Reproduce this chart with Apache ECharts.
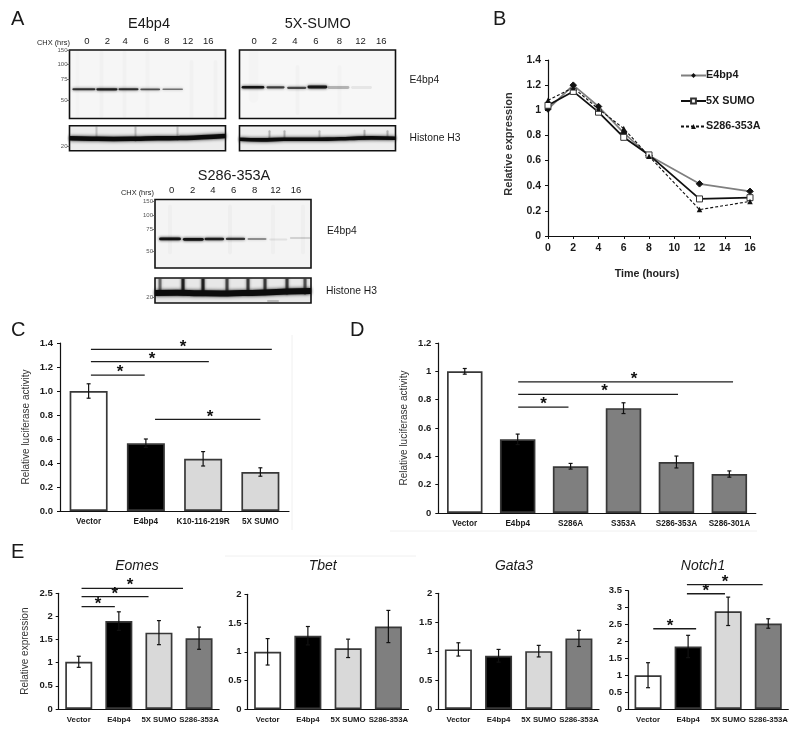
<!DOCTYPE html>
<html><head><meta charset="utf-8">
<style>html,body{margin:0;padding:0;background:#fff}#c{width:800px;height:733px}</style>
<script src="https://cdn.jsdelivr.net/npm/echarts@6/dist/echarts.min.js"></script>
</head><body><div id="c"></div>
<script>
const FONT='"Liberation Sans",Arial,sans-serif';
// ---------- Panel B ----------
const timeHours=[0,2,4,6,8,12,16];
const bE4bp4=[1.01,1.2,1.03,0.82,0.64,0.415,0.355];
const b5xSumo=[1.04,1.15,0.985,0.785,0.645,0.295,0.305];
const bS286=[1.08,1.18,1.01,0.855,0.635,0.21,0.275];
// ---------- Panel C ----------
const cCats=['Vector','E4bp4','K10-116-219R','5X SUMO'];
const cVals=[1,0.565,0.435,0.325];
const cErrs=[0.06,0.035,0.06,0.035];
// ---------- Panel D ----------
const dCats=['Vector','E4bp4','S286A','S353A','S286-353A','S286-301A'];
const dVals=[1,0.52,0.33,0.74,0.36,0.275];
const dErrs=[0.02,0.037,0.02,0.038,0.042,0.022];
// ---------- Panel E ----------
const eCats=['Vector','E4bp4','5X SUMO','S286-353A'];
const eomesVals=[1.02,1.9,1.65,1.53], eomesErrs=[0.12,0.2,0.26,0.24];
const tbetVals=[1,1.28,1.06,1.44], tbetErrs=[0.23,0.16,0.16,0.28];
const gata3Vals=[1.03,0.92,1,1.22], gata3Errs=[0.115,0.11,0.1,0.14];
const notch1Vals=[1,1.85,2.89,2.53], notch1Errs=[0.37,0.33,0.42,0.14];
// significance brackets: [from, to, level, star position] in category index / value units
const cBrackets=[[0.04,3.2,1.347,1.65],[0.04,2.1,1.245,1.11],[0.04,0.98,1.133,0.55],[1.16,3.0,0.764,2.12]];
const dBrackets=[[1.01,5.07,0.925,3.2],[1.01,4.03,0.838,2.64],[1.01,1.96,0.747,1.49]];
const eomesBrackets=[[0.07,2.6,2.608,1.28],[0.07,1.74,2.427,0.9],[0.07,0.9,2.21,0.48]];
const notchBrackets=[[0.97,2.86,3.68,1.92],[0.97,1.92,3.41,1.44],[0.13,1.2,2.375,0.55]];
// ---------- Panel A blots ----------
const laneLabels=['0','2','4','6','8','12','16'];
const e4LaneTicks=[17.4,38,55.7,76.7,97.4,118.4,138.7];
const sumoLaneTicks=[14.7,35,55.4,76.4,100,121,141.7];
const s286LaneTicks=[16.6,37.6,58,78.6,99.6,120.6,141];
const markerLabels=['150','100','75','50'];
// band rows: [gel x, width, gel y, thickness, darkness]
const e4Bands=[[14.4,21,39.3,2,.8],[37.4,19,39.3,2.2,.9],[59,18,39.3,2,.82],[80.7,18,39.3,1.8,.66],[103.2,19,39.3,1.6,.52],
 [8,4,34,64,.012],[32,4,34,64,.018],[55,4,34,64,.018],[78,4,34,64,.014],[122,4,40,56,.018],[146,4,40,56,.018]];
const sumoBands=[[13.5,20,37.3,2.6,.95],[36,16,37.3,2.2,.72],[57.2,17,37.8,2.2,.68],[77.9,17,37,2.8,.92],[99,19,37.5,2.8,.26],[122,18,37.5,2.8,.07],
 [14,10,20,56,.012],[58,4,40,46,.018],[100,4,40,46,.014]];
const s286Bands=[[15,19,39.4,2.8,.98],[38.3,18,39.8,2.8,.98],[59.3,17,39.4,2.5,.9],[80.5,17,39.4,2.3,.76],[102,17,39.4,2,.4],[123.3,16,40,2,.08],[145.3,19,38.6,2,.14],
 [15,4,30,46,.018],[75,4,30,46,.024],[118,4,30,46,.018],[148,4,30,46,.018]];
const e4HistoneSpikes=[[27,2,7,12,.18],[66,2,7,16,.2],[108,2,7,14,.18]];
const sumoHistoneSpikes=[[30,2,9,7,.25],[45,2,9,7,.25],[80,2,9,7,.2],[125,2,9,8,.25],[148,2,9,7,.25]];
const s286HistoneSpikes=[[5,3,6,16,.5],[28,3,6,18,.85],[48,3,6,18,.85],[72,3,6,18,.65],[93,3,6,18,.7],[110,3,6,18,.7],[132,3,6,18,.7],[150,3,6,18,.6],[118,10,23,2,.2]];
// histone ridge lines: [gel x, gel y]
const e4HistoneRidge=[[0,12.6],[22,13],[44,13.2],[66,13],[88,12.5],[110,12.4],[132,11.6],[156,10.4]];
const sumoHistoneRidge=[[0,13.6],[22,14.2],[44,13.6],[66,13.6],[88,13.4],[110,12.8],[132,12.2],[156,12.6]];
const s286HistoneRidge=[[0,15],[22,14.8],[44,15.2],[66,15.4],[88,15],[110,14.6],[132,13.6],[156,13]];

const WHITE='#ffffff',BLACK='#000000',LIGHT='#d9d9d9',GRAY='#7f7f7f';
const grid=[],xAxis=[],yAxis=[],series=[];
const tickStyle=(size,bold=true)=>({color:'#1a1a1a',fontFamily:FONT,fontSize:size,fontWeight:bold?'bold':'normal'});

function errorBarItem(params,api){
  const i=api.value(0),lo=api.coord([i,api.value(1)]),hi=api.coord([i,api.value(2)]);
  const s={stroke:'#111',lineWidth:1.2,fill:null};
  return {type:'group',children:[
    {type:'line',shape:{x1:lo[0],y1:lo[1],x2:hi[0],y2:hi[1]},style:s},
    {type:'line',shape:{x1:lo[0]-2,y1:lo[1],x2:lo[0]+2,y2:lo[1]},style:s},
    {type:'line',shape:{x1:hi[0]-2,y1:hi[1],x2:hi[0]+2,y2:hi[1]},style:s}]};
}
function bracketItem(params,api){
  const a=api.coord([api.value(0),api.value(2)]),b=api.coord([api.value(1),api.value(2)]),st=api.coord([api.value(3),api.value(2)]);
  return {type:'group',children:[
    {type:'line',shape:{x1:a[0],y1:a[1],x2:b[0],y2:b[1]},style:{stroke:'#1c1c1c',lineWidth:1.3}},
    {type:'text',style:{x:st[0],y:a[1]-2.5,text:'*',font:'bold 17px '+FONT,fill:'#111',textAlign:'center',textVerticalAlign:'middle'}}]};
}
function addBars(o){
  const gi=grid.length;
  grid.push({left:o.left,top:o.top,width:o.width,height:o.height});
  const xi=xAxis.length;
  xAxis.push({type:'category',gridIndex:gi,data:o.cats,
    axisLine:{lineStyle:{color:'#111',width:1.2}},axisTick:{length:3,lineStyle:{color:'#111'}},
    axisLabel:{...tickStyle(o.catSize||8),margin:o.catMargin||7,interval:0}});
  xAxis.push({type:'value',gridIndex:gi,show:false,min:-0.5,max:o.cats.length-0.5});
  const yi=yAxis.length;
  yAxis.push({type:'value',gridIndex:gi,min:0,max:o.ymax,interval:o.interval,
    name:o.name||'',nameLocation:'middle',nameGap:o.nameGap||30,nameRotate:90,
    nameTextStyle:{color:'#333',fontFamily:FONT,fontSize:10},
    axisLine:{show:true,onZero:false,lineStyle:{color:'#111',width:1.2}},axisTick:{show:true,length:3,lineStyle:{color:'#111'}},
    splitLine:{show:false},axisLabel:{...tickStyle(o.valSize||9.5),margin:o.valMargin||7,formatter:o.fmt}});
  series.push({type:'bar',xAxisIndex:xi,yAxisIndex:yi,barWidth:o.barWidth,silent:true,animation:false,
    data:o.vals.map((v,i)=>({value:v,itemStyle:{color:o.colors[i],borderColor:'#383838',borderWidth:1.7}}))});
  series.push({type:'custom',xAxisIndex:xi,yAxisIndex:yi,renderItem:errorBarItem,silent:true,animation:false,z:5,
    data:o.vals.map((v,i)=>[i,v-o.errs[i],v+o.errs[i]])});
  if(o.brackets) series.push({type:'custom',xAxisIndex:xi+1,yAxisIndex:yi,renderItem:bracketItem,silent:true,animation:false,z:6,clip:false,
    encode:{x:[0,1],y:2},data:o.brackets});
}
function bandItem(params,api){
  const x=api.value(0),w=api.value(1),y=api.value(2),t=api.value(3),d=api.value(4);
  const tall=t>w;
  const p=api.coord(tall?[x,y-t/2]:[x-w/2,y]),q=api.coord(tall?[x,y+t/2]:[x+w/2,y]);
  const cs=params.coordSys,col='rgba(15,15,15,'+d+')';
  return {type:'line',shape:{x1:p[0],y1:p[1],x2:q[0],y2:q[1]},
    style:{stroke:col,lineWidth:tall?w:t,lineCap:'round',shadowBlur:3,shadowColor:col},
    clipPath:{type:'rect',shape:{x:cs.x+.7,y:cs.y+.7,width:cs.width-1.4,height:cs.height-1.4}}};
}
function addBlot(o){
  const gi=grid.length;
  grid.push({left:o.left,top:o.top,width:o.width,height:o.height,show:true,backgroundColor:o.bg,borderColor:'#111',borderWidth:1.6});
  const xi=xAxis.length,yi=yAxis.length;
  xAxis.push({type:'value',gridIndex:gi,min:0,max:o.width,position:'top',splitLine:{show:false},axisLine:{show:false},axisTick:{show:false},
    axisLabel:o.lanes?{show:true,customValues:o.lanes,margin:4,color:'#1a1a1a',fontFamily:FONT,fontSize:9.5,
      formatter:v=>laneLabels[o.lanes.indexOf(v)]}:{show:false}});
  yAxis.push({type:'value',gridIndex:gi,min:0,max:o.height,inverse:true,splitLine:{show:false},axisLine:{show:false},
    axisTick:{show:true,length:2.5,customValues:o.markers,lineStyle:{color:'#555',width:.8}},
    axisLabel:{show:true,customValues:o.markers,margin:2,color:'#555',fontFamily:FONT,fontSize:6,
      formatter:v=>o.markerText[o.markers.indexOf(v)]}});
  if(o.ridge) series.push({type:'line',xAxisIndex:xi,yAxisIndex:yi,data:o.ridge,smooth:true,symbol:'none',silent:true,animation:false,
    lineStyle:{color:'#0c0c0c',width:o.ridgeWidth,shadowBlur:3.5,shadowColor:'#111'}});
  series.push({type:'custom',xAxisIndex:xi,yAxisIndex:yi,renderItem:bandItem,silent:true,animation:false,data:o.bands});
}
// Blots
addBlot({left:69.5,top:50,width:156,height:68.5,bg:'#f6f6f6',lanes:e4LaneTicks,markers:[0.6,14,29,50],markerText:markerLabels,bands:e4Bands});
addBlot({left:69.5,top:125.7,width:156,height:25,bg:'#ececec',markers:[21],markerText:['20'],bands:e4HistoneSpikes,ridge:e4HistoneRidge,ridgeWidth:4.5});
addBlot({left:239.5,top:50,width:156,height:68.5,bg:'#f7f7f7',lanes:sumoLaneTicks,markers:[],markerText:[],bands:sumoBands});
addBlot({left:239.5,top:125.7,width:156,height:25,bg:'#eeeeee',markers:[],markerText:[],bands:sumoHistoneSpikes,ridge:sumoHistoneRidge,ridgeWidth:3.6});
addBlot({left:155,top:199.5,width:156,height:68.5,bg:'#f4f4f4',lanes:s286LaneTicks,markers:[1.6,15.6,30,51.6],markerText:markerLabels,bands:s286Bands});
addBlot({left:155,top:278,width:156,height:25,bg:'#e8e8e8',markers:[19],markerText:['20'],bands:s286HistoneSpikes,ridge:s286HistoneRidge,ridgeWidth:6});

// Panel B
{
  const gi=grid.length;
  grid.push({left:548,top:60,width:202,height:176});
  xAxis.push({type:'value',gridIndex:gi,min:0,max:16,interval:2,name:'Time (hours)',nameLocation:'middle',nameGap:33,
    nameTextStyle:{color:'#222',fontFamily:FONT,fontSize:10.7,fontWeight:'bold',padding:[0,4,0,0]},
    axisLine:{onZero:false,lineStyle:{color:'#111',width:1.2}},axisTick:{length:3,lineStyle:{color:'#111'}},splitLine:{show:false},
    axisLabel:{...tickStyle(10.5),margin:7}});
  yAxis.push({type:'value',gridIndex:gi,min:0,max:1.4,interval:0.2,name:'Relative expression',nameLocation:'middle',nameGap:34,nameRotate:90,
    nameTextStyle:{color:'#333',fontFamily:FONT,fontSize:11,fontWeight:'bold',padding:[0,0,0,8]},
    axisLine:{show:true,onZero:false,lineStyle:{color:'#111',width:1.2}},axisTick:{show:true,length:3,lineStyle:{color:'#111'}},splitLine:{show:false},
    axisLabel:{...tickStyle(10.5),margin:7}});
  const xi=xAxis.length-1,yi=yAxis.length-1;
  const pts=a=>timeHours.map((t,i)=>[t,a[i]]);
  series.push({name:'E4bp4',type:'line',xAxisIndex:xi,yAxisIndex:yi,data:pts(bE4bp4),symbol:'diamond',symbolSize:6.5,animation:false,silent:true,
    lineStyle:{color:'#7f7f7f',width:1.7},itemStyle:{color:'#111',borderColor:'#111'}});
  series.push({name:'5X SUMO',type:'line',xAxisIndex:xi,yAxisIndex:yi,data:pts(b5xSumo),symbol:'rect',symbolSize:6,animation:false,silent:true,
    lineStyle:{color:'#111',width:1.8},itemStyle:{color:'#fff',borderColor:'#333',borderWidth:1}});
  series.push({name:'S286-353A',type:'line',xAxisIndex:xi,yAxisIndex:yi,data:pts(bS286),symbol:'triangle',symbolSize:5.5,animation:false,silent:true,
    lineStyle:{color:'#111',width:1.1,type:[3,2]},itemStyle:{color:'#111'}});
}
// Panel C, D, E
addBars({left:60,top:343,width:229,height:168,cats:cCats,vals:cVals,errs:cErrs,colors:[WHITE,BLACK,LIGHT,LIGHT],ymax:1.4,interval:.2,fmt:v=>v.toFixed(1),
  barWidth:38,brackets:cBrackets,name:'Relative luciferase activity',nameGap:29,catSize:8.2,catMargin:7});
addBars({left:438.3,top:343,width:317.5,height:170,cats:dCats,vals:dVals,errs:dErrs,colors:[WHITE,BLACK,GRAY,GRAY,GRAY,GRAY],ymax:1.2,interval:.2,
  barWidth:35.5,brackets:dBrackets,name:'Relative luciferase activity',nameGap:29,catSize:8.2,catMargin:7});
addBars({left:58.7,top:593.3,width:160.4,height:115.7,cats:eCats,vals:eomesVals,errs:eomesErrs,colors:[WHITE,BLACK,LIGHT,GRAY],ymax:2.5,interval:.5,
  barWidth:27,brackets:eomesBrackets,name:'Relative expression',nameGap:28,catSize:7.8,valMargin:6});
addBars({left:247.5,top:594.3,width:161,height:115,cats:eCats,vals:tbetVals,errs:tbetErrs,colors:[WHITE,BLACK,LIGHT,GRAY],ymax:2,interval:.5,barWidth:27,catSize:7.8,valMargin:6});
addBars({left:438.3,top:593.3,width:160.7,height:115.7,cats:eCats,vals:gata3Vals,errs:gata3Errs,colors:[WHITE,BLACK,LIGHT,GRAY],ymax:2,interval:.5,barWidth:27,catSize:7.8,valMargin:6});
addBars({left:628,top:590.7,width:160.3,height:118.3,cats:eCats,vals:notch1Vals,errs:notch1Errs,colors:[WHITE,BLACK,LIGHT,GRAY],ymax:3.5,interval:.5,
  barWidth:27,brackets:notchBrackets,catSize:7.8,valMargin:6});

const T=(text,x,y,size,align='left',extra={})=>({text,left:x,top:y,padding:0,
  textAlign:align,textVerticalAlign:'middle',textStyle:{color:'#1a1a1a',fontFamily:FONT,fontSize:size,fontWeight:'normal',...extra}});
const titles=[
  T('A',11,19,20),T('B',493,19,20),T('C',11,330,20),T('D',350,330,20),T('E',11,552,20),
  T('E4bp4',149,23.5,14.5,'center'),T('5X-SUMO',317.7,23.5,14.5,'center'),T('S286-353A',234,176,14.5,'center'),
  T('CHX (hrs)',37,42.5,7.4),T('CHX (hrs)',121,192.5,7.4),
  T('E4bp4',409.5,80,10.3),T('Histone H3',409.5,138,10.3),T('E4bp4',327,231,10.3),T('Histone H3',326,291,10.3),
  T('Eomes',137,566,14,'center',{fontStyle:'italic'}),T('Tbet',322.7,566,14,'center',{fontStyle:'italic'}),
  T('Gata3',514,566,14,'center',{fontStyle:'italic'}),T('Notch1',703,566,14,'center',{fontStyle:'italic'})
];
const faint=(x1,y1,x2,y2)=>({type:'line',silent:true,shape:{x1,y1,x2,y2},style:{stroke:'#f0f0f0',lineWidth:1}});

const chart=echarts.init(document.getElementById('c'),null,{renderer:'canvas'});
chart.setOption({animation:false,backgroundColor:'#fff',title:titles,grid,xAxis,yAxis,series,
  legend:{data:['E4bp4','5X SUMO','S286-353A'],orient:'vertical',left:680,top:70,itemWidth:25,itemHeight:6,itemGap:14.5,padding:0,selectedMode:false,
    textStyle:{color:'#1a1a1a',fontFamily:FONT,fontSize:10.8,fontWeight:'bold',padding:[0,0,0,-5]}},
  graphic:[faint(292,335,292,530),faint(390,531,757,531),faint(225,556,416,556)]});
</script></body></html>
